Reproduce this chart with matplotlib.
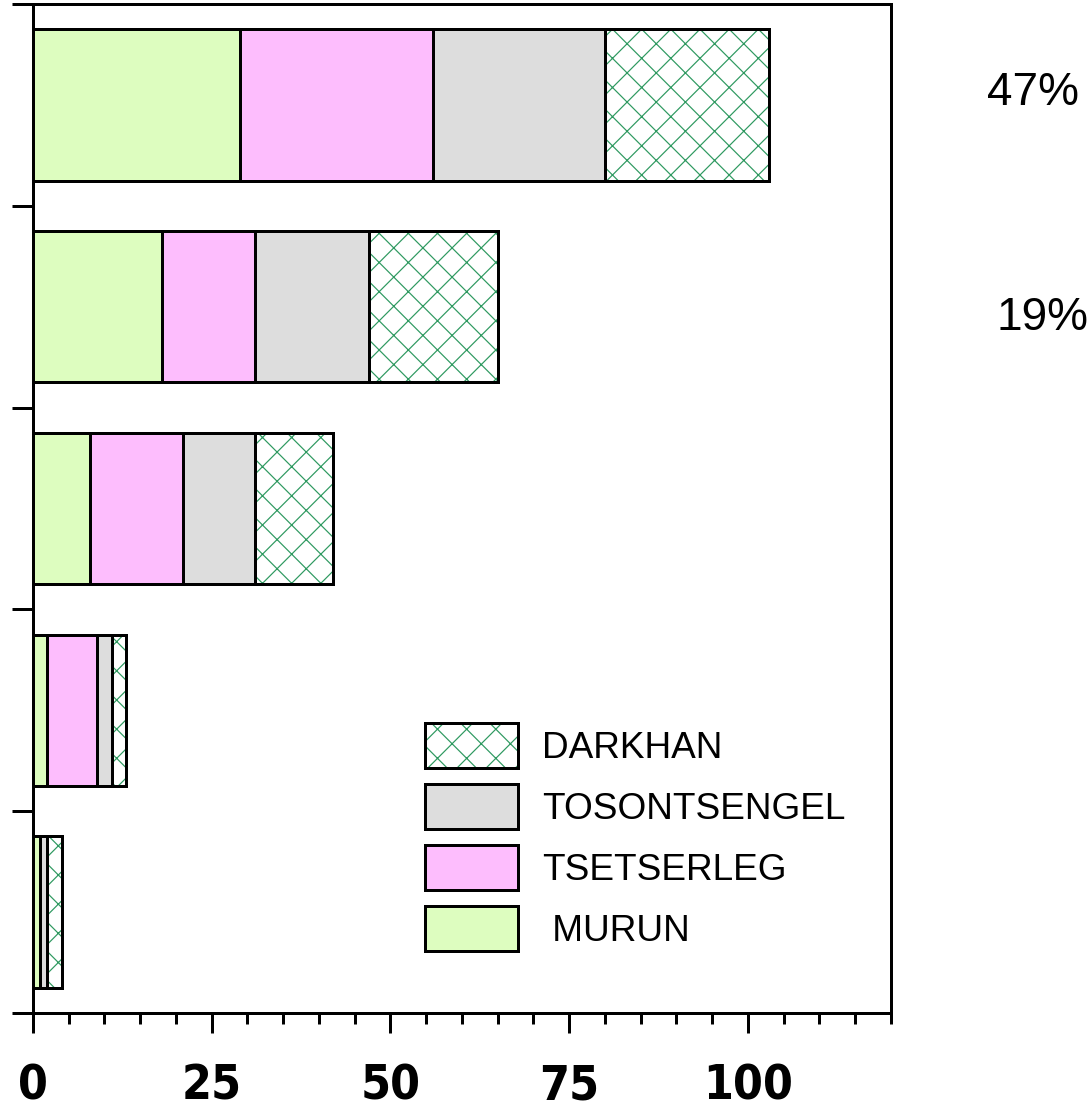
import matplotlib
matplotlib.use("Agg")
import matplotlib.pyplot as plt
from matplotlib.patches import Patch
from matplotlib.legend_handler import HandlerTuple
import numpy as np

# values, bottom bar first
murun = [1, 2, 8, 18, 29]
tsetserleg = [0, 7, 13, 13, 27]
tosontsengel = [1, 2, 10, 16, 24]
darkhan = [2, 2, 11, 18, 23]
series_names = [" MURUN", "TSETSERLEG", "TOSONTSENGEL", "DARKHAN"]
x_ticks = [0, 25, 50, 75, 100]
pct_labels = ["47%", "19%"]

DPI = 175
def px(p):
    # pixels -> points at this dpi
    return p * 72.0 / DPI

colors = ["#ddfdbf", "#fdbdfd", "#dddddd", "white"]
hatch_green = "#2e9960"
plt.rcParams["hatch.linewidth"] = px(1.2)

fig = plt.figure(figsize=(1089 / DPI, 1109 / DPI), dpi=DPI)
ax = fig.add_axes([33 / 1089, 1 - 1013 / 1109, (891 - 33) / 1089, (1013 - 4) / 1109])

ypos = np.arange(len(murun)) + 0.5
h = 0.75
lw = px(3)
left = np.zeros(len(murun))
for vals, c, name in zip([murun, tsetserleg, tosontsengel], colors, series_names):
    ax.barh(ypos, vals, height=h, left=left, color=c, edgecolor="black", linewidth=lw)
    left += np.array(vals)
# darkhan: green hatch underneath, black outline on top
ax.barh(ypos, darkhan, height=h, left=left, color="white", edgecolor=hatch_green,
        hatch="xx", linewidth=0)
ax.barh(ypos, darkhan, height=h, left=left, fill=False, edgecolor="black", linewidth=lw)

ax.set_xlim(0, 120)
ax.set_ylim(0, 5)
ax.set_yticks(np.arange(0, 6))
ax.set_yticklabels([])
ax.set_xticks(x_ticks)
ax.set_xticks(np.arange(0, 121, 5), minor=True)
for s in ax.spines.values():
    s.set_linewidth(lw)
ax.tick_params(axis="y", direction="out", length=px(21), width=lw)
ax.tick_params(axis="x", which="major", direction="out", length=px(20), width=lw, pad=px(30))
ax.tick_params(axis="x", which="minor", direction="out", length=px(11), width=lw)
for lab in ax.get_xticklabels():
    lab.set_family(["Liberation Sans Narrow", "DejaVu Sans"])
    lab.set_fontstretch("condensed")
    lab.set_fontweight("bold")
    lab.set_fontsize(px(48))

# legend
handles = [
    (Patch(facecolor="white", edgecolor=hatch_green, hatch="xx", linewidth=0),
     Patch(fill=False, edgecolor="black", linewidth=lw)),
    Patch(facecolor=colors[2], edgecolor="black", linewidth=lw),
    Patch(facecolor=colors[1], edgecolor="black", linewidth=lw),
    Patch(facecolor=colors[0], edgecolor="black", linewidth=lw),
]
labels = series_names[::-1]
fpx = 37
hh = (45 / fpx - 0.245) / 0.65
fig.legend(handles, labels, loc="upper left", bbox_to_anchor=(425 / 1089, 1 - 723 / 1109),
           frameon=False, borderpad=0, borderaxespad=0,
           handlelength=93 / fpx, handleheight=hh, labelspacing=16 / fpx,
           handletextpad=24 / fpx,
           prop={"family": ["Liberation Sans", "DejaVu Sans"], "size": px(fpx)},
           handler_map={tuple: HandlerTuple(ndivide=1, pad=0)})

fig.text(987 / 1089, 1 - 93 / 1109, pct_labels[0], ha="left", va="center",
         fontsize=px(46), family=["Liberation Sans", "DejaVu Sans"])
fig.text(997 / 1089, 1 - 318 / 1109, pct_labels[1], ha="left", va="center",
         fontsize=px(46), family=["Liberation Sans", "DejaVu Sans"])

fig.savefig("out.png", dpi=DPI, facecolor="white")
